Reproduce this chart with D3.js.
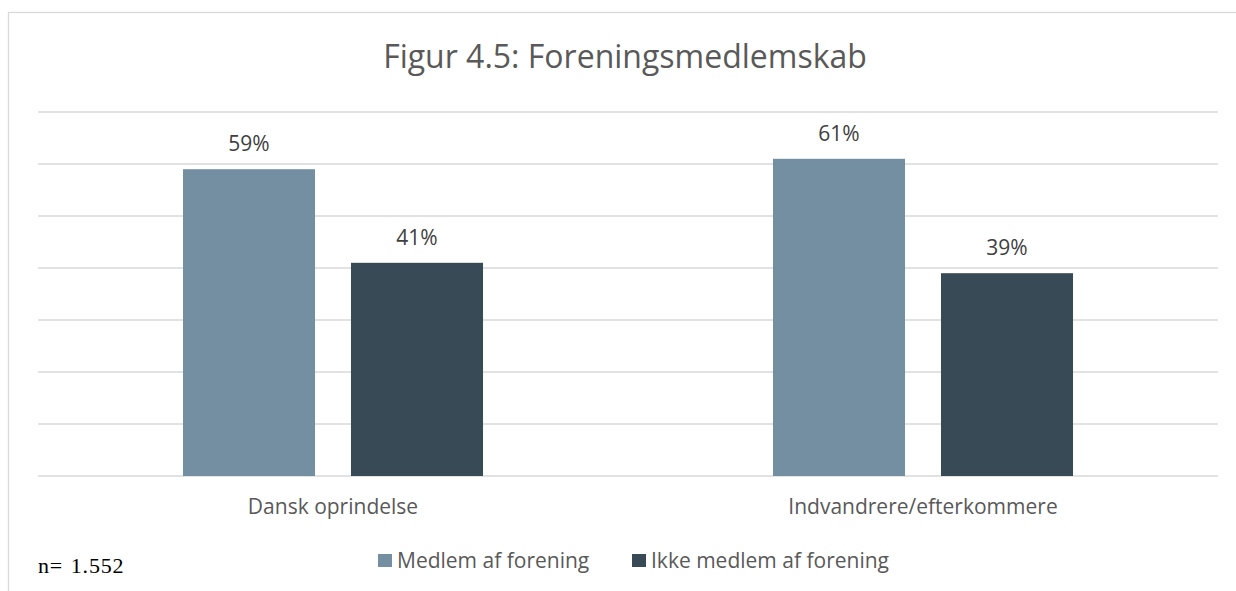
<!DOCTYPE html>
<html><head><meta charset="utf-8">
<script src="https://cdn.jsdelivr.net/npm/d3@7"></script>
<style>body{margin:0;background:#fff}svg{display:block}</style>
</head><body>
<svg id="c" width="1236" height="591"></svg>
<script>
const categories = ["Dansk oprindelse", "Indvandrere/efterkommere"];
const seriesNames = ["Medlem af forening", "Ikke medlem af forening"];
const medlem = [59, 61];
const ikkeMedlem = [41, 39];
const yTicks = [0, 10, 20, 30, 40, 50, 60, 70];
const colors = ["#748fa1", "#374a55"];
const title = "Figur 4.5: Foreningsmedlemskab";
const note = "n= 1.552";

(function () {
const svg = d3.select("#c");
const font = "'Open Sans', sans-serif";
const pLeft = 38, pRight = 1218, pTop = 112, pBottom = 476;

svg.append("rect").attr("x", 8.5).attr("y", 12.5).attr("width", 1400).attr("height", 800)
  .attr("fill", "none").attr("stroke", "#d9d9d9").attr("stroke-width", 1.3);

const x0 = d3.scaleBand().domain(categories).range([pLeft, pRight]).paddingInner(0).paddingOuter(0);
const x1 = d3.scaleBand().domain(seriesNames).range([0, x0.bandwidth()]).paddingInner(0.214).paddingOuter(0.863);
const y = d3.scaleLinear().domain([0, 70]).range([pBottom, pTop]);

svg.append("g").selectAll("line").data(yTicks).join("line")
  .attr("x1", pLeft).attr("x2", pRight)
  .attr("y1", d => y(d)).attr("y2", d => y(d))
  .attr("stroke", "#d9d9d9").attr("stroke-width", 1.3);

const rows = [];
categories.forEach((c, i) => {
  rows.push({cat: c, s: seriesNames[0], v: medlem[i], col: colors[0]});
  rows.push({cat: c, s: seriesNames[1], v: ikkeMedlem[i], col: colors[1]});
});

svg.append("g").selectAll("rect").data(rows).join("rect")
  .attr("x", d => x0(d.cat) + x1(d.s))
  .attr("width", x1.bandwidth())
  .attr("y", d => y(d.v))
  .attr("height", d => y(0) - y(d.v))
  .attr("fill", d => d.col);

svg.append("g").selectAll("text").data(rows).join("text")
  .attr("x", d => x0(d.cat) + x1(d.s) + x1.bandwidth() / 2)
  .attr("y", d => y(d.v) - 18)
  .attr("text-anchor", "middle")
  .attr("font-family", font).attr("font-size", 21).attr("fill", "#404040")
  .text(d => d.v + "%");

svg.append("g").selectAll("text").data(categories).join("text")
  .attr("x", d => x0(d) + x0.bandwidth() / 2)
  .attr("y", 514)
  .attr("text-anchor", "middle")
  .attr("font-family", font).attr("font-size", 21).attr("fill", "#595959")
  .text(d => d);

svg.append("text").attr("x", 625).attr("y", 68).attr("text-anchor", "middle")
  .attr("font-family", font).attr("font-size", 32).attr("fill", "#595959")
  .text(title);

const legX = [378, 632];
const leg = svg.append("g").selectAll("g").data(seriesNames).join("g")
  .attr("transform", (d, i) => `translate(${legX[i]},0)`);
leg.append("rect").attr("x", 0).attr("y", 554).attr("width", 14).attr("height", 13)
  .attr("fill", (d, i) => colors[i]);
leg.append("text").attr("x", 19).attr("y", 568)
  .attr("font-family", font).attr("font-size", 21).attr("fill", "#595959")
  .text(d => d);

svg.append("text").attr("x", 38).attr("y", 573)
  .attr("font-family", "'Liberation Serif', 'Times New Roman', serif").attr("font-size", 22)
  .attr("fill", "#000").attr("word-spacing", 1.5).attr("letter-spacing", 0.8)
  .text(note);
})();
</script>
</body></html>
